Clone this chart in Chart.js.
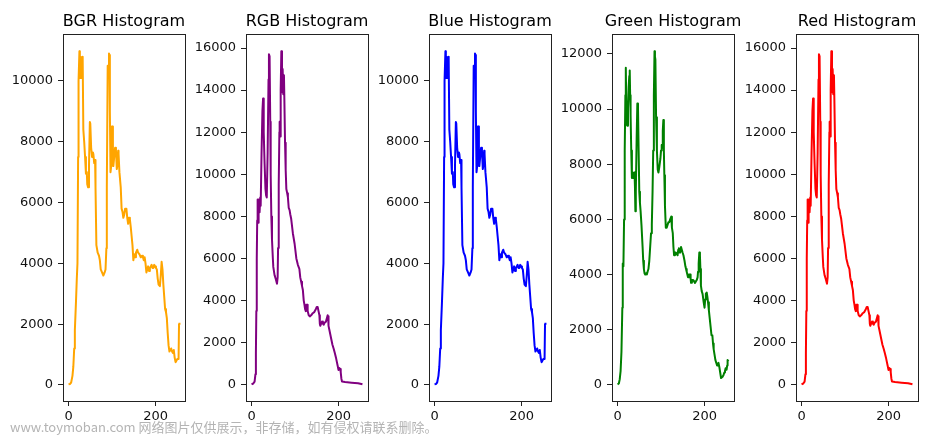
<!DOCTYPE html>
<html><head><meta charset="utf-8">
<script src="https://cdn.jsdelivr.net/npm/chart.js@4.4.0/dist/chart.umd.min.js"></script>
<style>
html,body{margin:0;padding:0;background:#fff;width:941px;height:435px;overflow:hidden;}
canvas{position:absolute;top:0;}
#wm{position:absolute;left:10px;top:417px;font:13px "Noto Sans CJK SC","DejaVu Sans",sans-serif;color:#b4b4b4;white-space:nowrap;z-index:5;}
</style></head><body>
<div id="wm">www.toymoban.com 网络图片仅供展示，非存储，如有侵权请联系删除。</div>
<script>
// ---- data ----
const titles = ['BGR Histogram','RGB Histogram','Blue Histogram','Green Histogram','Red Histogram'];
const lineColors = ['orange','purple','blue','green','red'];
const xTicks = [0, 200];
const blueTicks = [0,2000,4000,6000,8000,10000];
const greenTicks = [0,2000,4000,6000,8000,10000,12000];
const redTicks = [0,2000,4000,6000,8000,10000,12000,14000,16000];

const blueX = [0,3,6,9,11,13,14.5,17,19,20.5,22,23,25,26,27,28,29,30,31,32,33,34,36,38,40,42,43,45,47,49,50,52,54,56,57,59,61,62,64,67,70,72,74,77,80,83,85,87,88,90,91,93,94,95,96.5,98,99.5,101,102,103,105,107,109,111,112,114,115,117,120,122,124,126,128,130,133,135,137,139,141,143,145,147,149,151,153,155,158,160,163,166,169,171,173,175,177,179,181,183,185,187,189,191,193,195,197,199,201,203,205,207,210,212,214,216,218,220,222,224,226,228,230,232,234,236,238,240,242,244,246,248,250,252,253,254,255];
const blueY = [20,30,80,300,600,1200,1800,2700,3500,4000,7500,10000,10980,10500,10100,10800,10700,10200,10100,10800,10700,8400,8000,7500,6950,7000,6600,6500,7200,8650,8600,7800,7500,7650,7600,7300,7400,6500,4600,4350,4250,4100,3800,3700,3600,3700,3800,4500,6500,10500,10300,10900,10850,9000,7000,7200,8500,8500,7500,7200,7500,7800,7700,7100,7200,7700,7600,7000,6500,5800,5700,5500,5600,5800,5800,5500,5300,5500,5450,5200,4900,4600,4100,4300,4200,4350,4450,4350,4300,4200,4250,4200,4100,4200,4000,3700,3800,3900,3750,3850,3900,3950,3850,3850,3950,3900,3850,3800,3500,3300,3250,3600,4050,3800,3300,2900,2500,2400,2200,1700,1300,1100,1150,1200,1100,1050,1150,900,750,800,850,850,900,2000,2050];

const redX = [0,4,7,9,10,11,12,13,14,15,15.5,17,18.5,20,21,23,25,26.5,28,30,32,33.5,35,37,39,40,41.5,43,44,45.5,47,49,50,53,56,58.5,60,61,62.5,64,64.6,66,67,68.5,70,71.5,73,74.5,75.5,77,78.5,80,82,83.6,85.5,87.5,89,91,95,99,103,106.5,110,112,114,116,118,120,121.7,123,124.7,126,127.8,129,131.5,134,137,140.7,144,148,150,152,154,156,157,158,160,162,164,165.8,168,171,173,175,176,177,179,181,183,186,189,191.6,194,196,198,200,201.5,203,204,205,206.5,208,215,230,245,255];
const redY = [20,60,150,500,1500,3500,6000,7800,8800,8400,7700,8800,8200,8900,8500,11000,13000,13600,12000,10500,9300,9000,8900,11000,14500,15700,15600,12500,10000,8000,6900,6000,5600,5200,5000,4800,5100,6500,9500,12000,12500,11800,14000,15850,13900,15000,13800,14700,13500,11500,10200,9300,9100,8900,8400,8300,8100,7900,7200,6700,6000,5700,5500,5100,4900,4700,4500,4000,3800,3600,3500,3800,3800,3500,3300,3250,3300,3400,3450,3600,3700,3700,3500,3300,2900,2800,2900,3000,2900,2850,2950,3000,3150,3300,3250,2800,2600,2400,2200,1900,1700,1500,1300,1100,900,700,800,800,750,600,300,150,130,100,70,20];

const greenX = [0,3,5,7,9,11,12,13.5,15,16.5,18,19,20.5,22,24,25.5,27,28,29,30,31.5,33,35,37,39,40,41,42,44,45.5,47,48.5,50,51.5,53,55,57.6,59,60.6,62,63.6,66,67.4,69,71,73,75,77,78.8,80.5,82,83.5,85,86,87,88.6,90.5,92.4,94,96,98.5,100,101.5,103,104,105.3,106.5,107.6,109,111,113,115,117,119,121,123.5,125,127,128.5,130,132,134,136,138,139.5,141,142.5,144,146,147.7,149.5,151.5,154,156,157.5,159,160.5,162,164,166.7,168,169,171,174,176,178,180,182,184,185,186.5,188,189.4,190.5,191.7,193.5,195.5,198,200,201.5,203,205,206.5,208,210,212,214,216,218,219.5,221,223,225,227,228.8,230.5,232,234,236,238,240,241.7,243.5,245.5,247,248.5,250.7,252,253,255];
const greenY = [20,50,200,500,1200,2800,4400,4300,6000,8500,10500,11500,9500,9400,10000,10800,11200,11400,10500,9800,8500,7500,7700,7500,7700,7200,6300,7000,9000,10200,10100,8500,7000,6600,6300,5800,5000,4500,4200,4050,4000,4050,4000,4100,4200,4500,5000,5500,5800,7000,8500,10500,12100,11900,11800,9700,8500,7800,7700,7900,8200,8500,8700,8600,9200,9600,8500,7600,6500,5700,5700,5800,5900,5900,6000,6100,5700,5500,5000,4700,4800,4800,4750,4700,4900,4950,4800,4800,5000,5000,4800,4700,4500,4300,4200,4100,4000,3900,4000,4000,3850,3700,3800,3800,3750,3700,3750,3800,3900,4100,4400,4800,4700,4200,3600,3400,3300,3000,2800,3100,3300,3350,3200,3000,2700,2400,2100,1800,1800,1500,1300,1100,900,800,700,750,800,650,450,250,250,300,350,450,500,600,550,700,900,850];

const seriesX = [blueX, redX, blueX, greenX, redX];
const seriesY = [blueY, redY, blueY, greenY, redY];
const yTickSets = [blueTicks, redTicks, blueTicks, greenTicks, redTicks];

// ---- layout ----
const boxLefts = [63, 246, 429, 612, 796];
const boxW = 122, sideW = 60, H = 435;

const boxPlugin = {
  id: 'box',
  afterDraw(chart) {
    const a = chart.chartArea, ctx = chart.ctx;
    ctx.save();
    ctx.strokeStyle = '#222';
    ctx.lineWidth = 1;
    const l = Math.floor(a.left) + 0.5, t = Math.floor(a.top) + 0.5;
    const r = Math.floor(a.right) + 0.5, b = Math.floor(a.bottom) + 0.5;
    ctx.strokeRect(l, t, r - l, b - t);
    ctx.restore();
  }
};

for (let i = 0; i < 5; i++) {
  const cv = document.createElement('canvas');
  const W = sideW + boxW + sideW;
  cv.width = W; cv.height = H;
  cv.style.left = (boxLefts[i] - sideW) + 'px';
  cv.style.width = W + 'px'; cv.style.height = H + 'px';
  document.body.appendChild(cv);

  const xs = seriesX[i], ys = seriesY[i];
  const pts = xs.map((x, k) => ({x: x, y: ys[k]}));
  const xMinD = Math.min(...xs), xMaxD = 255;
  const yMinD = Math.min(...ys), yMaxD = Math.max(...ys);
  const xm = (xMaxD - xMinD) * 0.05, ym = (yMaxD - yMinD) * 0.05;
  const yt = yTickSets[i];

  new Chart(cv, {
    type: 'line',
    data: { datasets: [{ data: pts, borderColor: lineColors[i], borderWidth: 2, pointRadius: 0, tension: 0, fill: false, borderJoinStyle: 'round' }] },
    options: {
      responsive: false, animation: false, devicePixelRatio: 1,
      layout: { padding: 0 },
      plugins: {
        legend: { display: false }, tooltip: { enabled: false },
        title: { display: true, text: titles[i], fullSize: true, color: '#000',
          font: { family: 'DejaVu Sans', size: 16, weight: 'normal' },
          padding: { top: 12, bottom: 3.3 } }
      },
      scales: {
        x: { type: 'linear', min: xMinD - xm, max: xMaxD + xm,
          afterFit(s) { s.height = 34; },
          afterBuildTicks(s) { s.ticks = xTicks.map(v => ({value: v})); },
          border: { display: false },
          grid: { drawOnChartArea: false, drawTicks: true, tickLength: 5, color: '#222', tickColor: '#222' },
          ticks: { color: '#111', padding: 3, maxRotation: 0, font: { family: 'DejaVu Sans', size: 13 }, callback: v => String(v) } },
        y: { type: 'linear', position: 'left', min: yMinD - ym, max: yMaxD + ym,
          afterFit(s) { s.width = sideW; },
          afterBuildTicks(s) { s.ticks = yt.map(v => ({value: v})); },
          border: { display: false },
          grid: { drawOnChartArea: false, drawTicks: true, tickLength: 5, color: '#222', tickColor: '#222' },
          ticks: { color: '#111', padding: 5, font: { family: 'DejaVu Sans', size: 13 }, callback: v => String(v) } },
        spacer: { type: 'linear', position: 'right', display: true,
          afterFit(s) { s.width = sideW; },
          border: { display: false }, grid: { display: false }, ticks: { display: false } }
      }
    },
    plugins: [boxPlugin]
  });
}
</script>
</body></html>
